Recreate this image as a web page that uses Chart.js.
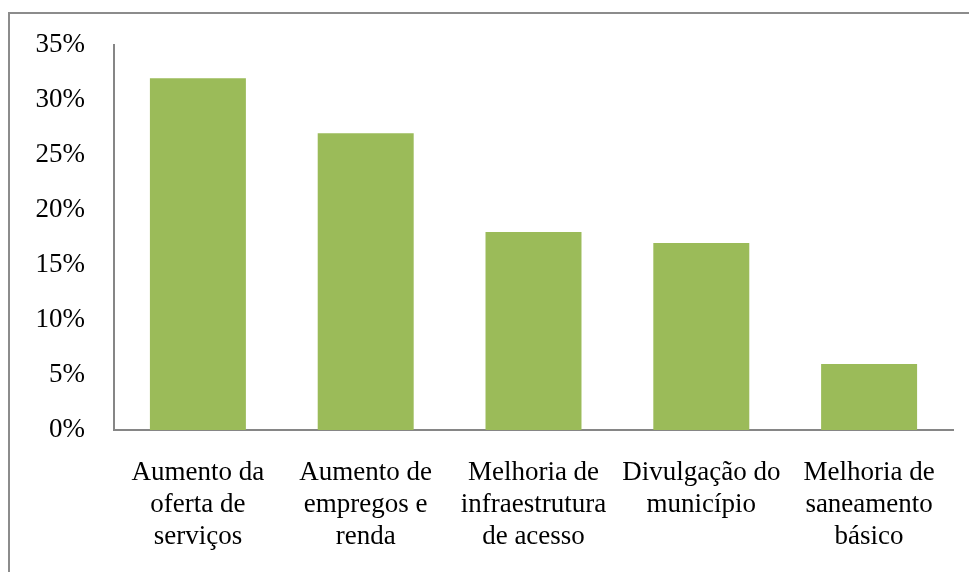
<!DOCTYPE html>
<html>
<head>
<meta charset="utf-8">
<script src="https://cdn.jsdelivr.net/npm/chart.js@4"></script>
<style>
  html, body { margin: 0; padding: 0; background: #fff; }
  #wrap { position: relative; width: 969px; height: 572px; overflow: hidden; }
  #frame { position: absolute; left: 8px; top: 12px; width: 1200px; height: 800px; border: 2px solid #8c8c8c; box-sizing: border-box; }
  canvas { position: absolute; left: 0; top: 0; }
</style>
</head>
<body>
<div id="wrap">
  <div id="frame"></div>
  <canvas id="c" width="969" height="572"></canvas>
</div>
<script>
const categories = [
  ["Aumento da", "oferta de", "serviços"],
  ["Aumento de", "empregos e", "renda"],
  ["Melhoria de", "infraestrutura", "de acesso"],
  ["Divulgação do", "município"],
  ["Melhoria de", "saneamento", "básico"]
];
const values = [32, 27, 18, 17, 6];
const yTicks = [0, 5, 10, 15, 20, 25, 30, 35];

const fontFamily = "'Liberation Serif', 'Times New Roman', serif";

new Chart(document.getElementById('c'), {
  type: 'bar',
  data: {
    labels: categories,
    datasets: [{
      data: values,
      backgroundColor: '#9bbb59',
      borderWidth: 0,
      barPercentage: 0.572,
      categoryPercentage: 1
    }]
  },
  options: {
    responsive: false,
    animation: false,
    layout: { padding: { top: 39, right: 16, left: 0, bottom: 0 } },
    plugins: { legend: { display: false }, tooltip: { enabled: false } },
    scales: {
      x: {
        grid: { display: false, drawTicks: false },
        border: { display: true, color: '#868686', width: 2 },
        ticks: {
          color: '#000',
          font: { family: fontFamily, size: 27, lineHeight: 1.185 },
          padding: 27,
          maxRotation: 0,
          autoSkip: false
        },
        afterFit(scale) { scale.height = 142; }
      },
      y: {
        min: 0,
        max: 35,
        grid: { display: false, drawTicks: false },
        border: { display: true, color: '#868686', width: 2 },
        afterBuildTicks(scale) { scale.ticks = yTicks.map(v => ({ value: v })); },
        ticks: {
          color: '#000',
          font: { family: fontFamily, size: 27 },
          padding: 29,
          callback: v => v + '%'
        },
        afterFit(scale) { scale.width = 114; }
      }
    }
  }
});
</script>
</body>
</html>
